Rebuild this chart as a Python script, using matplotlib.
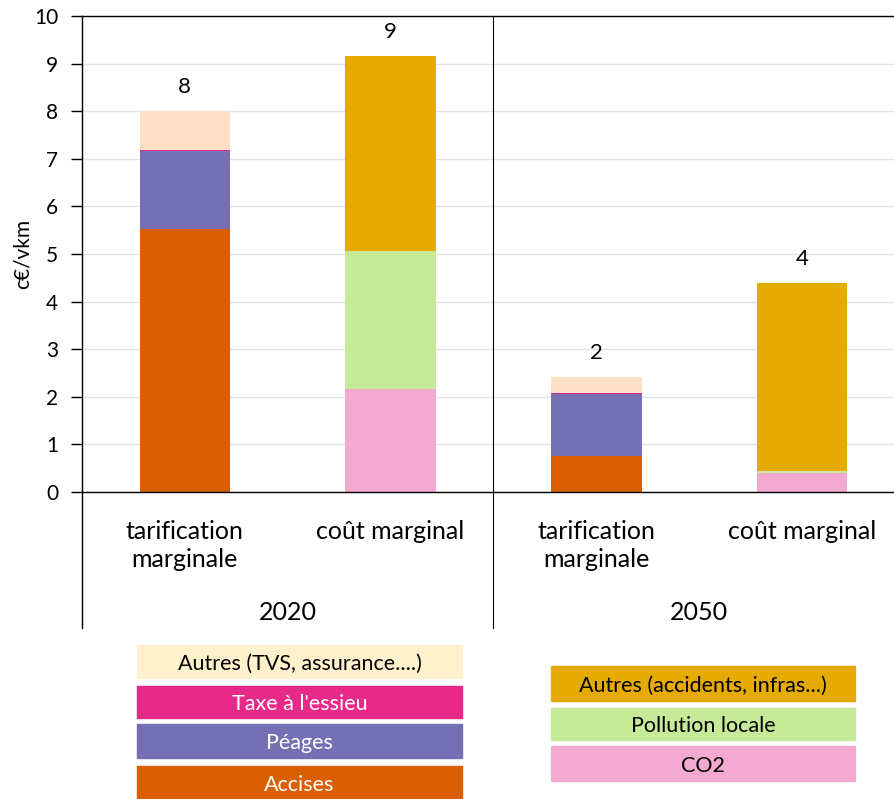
import matplotlib
matplotlib.use("Agg")
import matplotlib.pyplot as plt
from matplotlib.patches import Rectangle
from matplotlib.transforms import blended_transform_factory

plt.rcParams['font.family'] = ['Lato', 'DejaVu Sans']

# bars, left to right
categories = ["tarification\nmarginale", "coût marginal", "tarification\nmarginale", "coût marginal"]
years = ["2020", "2050"]

# c€/vkm, stacked from the bottom
accises = [5.52, 0, 0.76, 0]
peages = [1.64, 0, 1.30, 0]
taxe_essieu = [0.03, 0, 0.02, 0]
autres_tarif = [0.81, 0, 0.34, 0]
co2 = [0, 2.16, 0, 0.40]
pollution = [0, 2.90, 0, 0.04]
autres_cout = [0, 4.10, 0, 3.95]

series = [
    (accises, "#D95F02"),
    (peages, "#7570B3"),
    (taxe_essieu, "#E7298A"),
    (autres_tarif, "#FDDFC6"),
    (co2, "#F4A9D0"),
    (pollution, "#C6EA97"),
    (autres_cout, "#E6AB02"),
]

legend_left = [
    ("Autres (TVS, assurance....)", "#FFF1CC", "black"),
    ("Taxe à l'essieu", "#E7298A", "white"),
    ("Péages", "#7570B3", "white"),
    ("Accises", "#D95F02", "white"),
]
legend_right = [
    ("Autres (accidents, infras...)", "#E6AB02", "black"),
    ("Pollution locale", "#C6EA97", "black"),
    ("CO2", "#F4A9D0", "black"),
]

W, H = 895, 799
fig = plt.figure(figsize=(W / 100, H / 100), dpi=100)
ax = fig.add_axes([82 / W, 307 / H, 823 / W, 476 / H])

x = range(len(categories))
bottom = [0.0] * len(categories)
for vals, color in series:
    ax.bar(x, vals, width=0.44, bottom=bottom, color=color, zorder=2)
    bottom = [b + v for b, v in zip(bottom, vals)]

# totals above each bar
for i, total in enumerate(bottom):
    ax.text(i, total + 0.5, f"{total:.0f}", ha="center", va="center", fontsize=16)

ax.set_xlim(-0.5, 3.5)
ax.set_ylim(0, 10)
ax.set_yticks(range(0, 11))
ax.tick_params(axis="y", length=8, width=1, labelsize=15, pad=9)
ax.set_xticks(list(x))
ax.set_xticklabels(categories, fontsize=18, linespacing=1.25)
ax.tick_params(axis="x", length=0, pad=20)
ax.set_ylabel("c€/vkm", fontsize=15, labelpad=1)
ax.grid(axis="y", color="#E3E3E3", lw=1, zorder=0)

for side in ["left", "top", "bottom", "right"]:
    ax.spines[side].set_color("black")
    ax.spines[side].set_linewidth(1)

# group separators below the axis
trans = blended_transform_factory(ax.transData, ax.transAxes)
low = -136 / 476
ax.plot([-0.5, -0.5], [0, low], color="black", lw=1, transform=trans, clip_on=False)
ax.plot([1.5, 1.5], [1, low], color="black", lw=0.8, transform=trans, clip_on=False)
for j, year in enumerate(years):
    ax.text(0.5 + 2 * j, -120 / 476, year, transform=trans, ha="center", va="center", fontsize=18)

# legend blocks
def legend_block(items, x0, x1, tops, heights):
    for (label, color, tcolor), top, h in zip(items, tops, heights):
        fig.patches.append(Rectangle((x0 / W, 1 - (top + h) / H), (x1 - x0) / W, h / H,
                                     transform=fig.transFigure, color=color))
        fig.text((x0 + x1) / 2 / W, 1 - (top + h / 2 + 2) / H, label, ha="center", va="center",
                 color=tcolor, fontsize=15.5)

legend_block(legend_left, 137, 462, [645, 686, 724, 766], [33, 32, 34, 34])
legend_block(legend_right, 551, 855, [666, 708, 746], [35, 32, 35])

fig.savefig("out.png", dpi=100)
